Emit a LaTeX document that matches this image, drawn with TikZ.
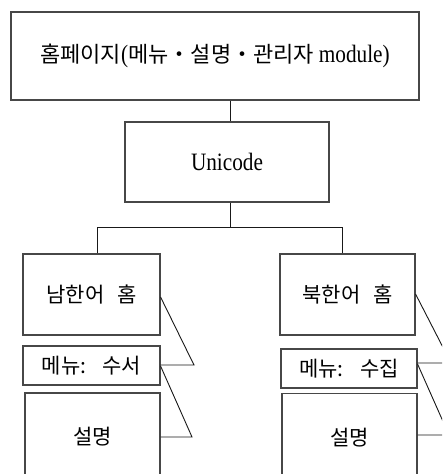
\documentclass[tikz,border=0pt]{standalone}
\usepackage{fontspec}
\setmainfont{Liberation Serif}[FakeStretch=0.85]
\newfontfamily\krfont{Noto Sans CJK KR}
\newcommand\kr{\krfont\fontsize{21}{25}\selectfont}
\newcommand\krbig{\krfont\fontsize{22}{26}\selectfont}
\newcommand\latn{\rmfamily\fontsize{25}{29}\selectfont}
\begin{document}
\begin{tikzpicture}[x=1pt,y=-1pt,
  box/.style={draw=black!72, line width=1.1pt, rectangle, inner sep=0pt, fill=white},
  link/.style={draw=black!90, line width=0.9pt, line join=miter},
  font=\kr]
\useasboundingbox (0,0) rectangle (442,474);
\clip (0,0) rectangle (442,474);
\fill[white] (0,0) rectangle (442,474);

% junction points of the tree
\coordinate (trunk) at (230,227);
\coordinate (lb) at (97,227);
\coordinate (rb) at (342,227);

% top level and encoding layer
\node[box, minimum width=408pt, minimum height=88pt, font=\krbig] (top) at (215,56)
  {홈페이지{\latn(}메뉴・설명・관리자 {\latn module)}};
\node[box, minimum width=204pt, minimum height=80pt] (uni) at (227,162)
  {\latn Unicode};

% South Korean branch
\node[box, minimum width=137pt, minimum height=81pt] (sh) at (91.5,294.5) {남한어\hspace{8pt} 홈};
\node[box, minimum width=137pt, minimum height=39pt] (smenu) at (91.5,365.5) {메뉴:\hspace{10pt} 수서};
\node[box, minimum width=135pt, minimum height=88pt] (sdesc) at (92.5,437) {설명};

% North Korean branch
\node[box, minimum width=135pt, minimum height=81pt] (nh) at (347.5,294.5) {북한어\hspace{8pt} 홈};
\node[box, minimum width=136pt, minimum height=39pt] (nmenu) at (349,368.5) {메뉴:\hspace{10pt} 수집};
\node[box, minimum width=135pt, minimum height=88pt] (ndesc) at (349.5,437.5) {설명};

% tree connectors
\draw[link] (top.south -| trunk) -- (uni.north -| trunk);
\draw[link] (uni.south -| trunk) -- (trunk);
\draw[link] (sh.north -| lb) -- (lb) -- (rb) -- (nh.north -| rb);

% bracket links between the page parts
\coordinate (ltip1) at (194,365);
\coordinate (ltip2) at (192,437);
\draw[link] ([yshift=-2.5pt]sh.east) -- (ltip1) -- (ltip1 -| smenu.east);
\draw[link] ([yshift=-0.5pt]smenu.east) -- (ltip2) -- (ltip2 -| sdesc.east);

\coordinate (rtip1) at (451,363);
\coordinate (rtip2) at (449,435);
\draw[link] ([yshift=0.5pt]nh.east) -- (rtip1) -- (rtip1 -| nmenu.east);
\draw[link] ([yshift=4.5pt]nmenu.east) -- (rtip2) -- (rtip2 -| ndesc.east);
\end{tikzpicture}
\end{document}
